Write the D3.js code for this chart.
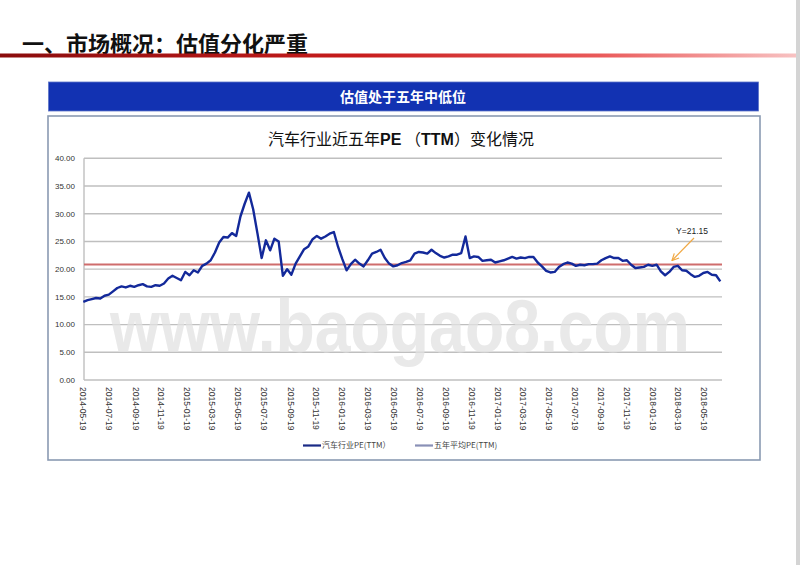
<!DOCTYPE html>
<html><head><meta charset="utf-8">
<script src="https://cdn.jsdelivr.net/npm/d3@7"></script>
<style>
html,body{margin:0;padding:0;background:#fff;}
svg{display:block;}
</style></head>
<body><svg id="c" width="800" height="565"></svg>
<script>
// ---- data ----
const pageTitle = "一、市场概况：估值分化严重";
const bannerText = "估值处于五年中低位";
const seriesNames = ["汽车行业PE(TTM）", "五年平均PE(TTM)"];
const startDate = "2014-05-19";
const stepDays = 10;
const peValues = [
 14.1,14.4,14.6,14.8,14.7,15.2,15.4,16.0,16.6,16.9,
 16.7,17.0,16.8,17.1,17.3,16.9,16.8,17.1,17.0,17.4,
 18.3,18.8,18.4,18.0,19.5,18.9,19.8,19.4,20.6,21.0,
 21.6,23.0,24.8,25.8,25.7,26.5,26.0,29.5,31.8,33.8,
 30.8,26.5,22.0,25.2,23.4,25.5,25.0,18.8,20.0,19.0,
 21.0,22.3,23.6,24.1,25.4,26.0,25.5,25.9,26.4,26.7,
 24.0,21.8,19.8,20.9,21.7,21.0,20.5,21.6,22.8,23.1,
 23.5,22.0,21.0,20.5,20.7,21.1,21.3,21.6,22.8,23.1,
 23.0,22.8,23.5,22.9,22.4,22.1,22.3,22.6,22.6,22.9,
 25.9,22.0,22.3,22.2,21.5,21.6,21.7,21.2,21.4,21.6,
 21.9,22.2,21.9,22.1,22.0,22.2,22.2,21.2,20.5,19.7,
 19.4,19.5,20.4,20.9,21.2,21.0,20.6,20.8,20.7,20.9,
 20.9,21.0,21.6,22.0,22.3,22.0,22.0,21.5,21.6,20.8,
 20.2,20.3,20.4,20.8,20.6,20.8,19.6,18.9,19.5,20.4,
 20.6,19.8,19.7,19.1,18.6,18.8,19.3,19.5,19.0,18.9,
 17.8
];
const avgPE = 20.85;
const avgLabel = "Y=21.15";
const xTickLabels = ["2014-05-19","2014-07-19","2014-09-19","2014-11-19","2015-01-19","2015-03-19",
 "2015-05-19","2015-07-19","2015-09-19","2015-11-19","2016-01-19","2016-03-19","2016-05-19",
 "2016-07-19","2016-09-19","2016-11-19","2017-01-19","2017-03-19","2017-05-19","2017-07-19",
 "2017-09-19","2017-11-19","2018-01-19","2018-03-19","2018-05-19"];
const yTicks = [0,5,10,15,20,25,30,35,40];
const xDomain = ["2014-05-19","2018-07-01"];

// ---- drawing ----
const svg = d3.select("#c");
const parse = d3.timeParse("%Y-%m-%d");
const t0 = parse(startDate);
const data = peValues.map((v,i)=>({d:d3.timeDay.offset(t0, i*stepDays), v}));

const defs = svg.append("defs");
const g1 = defs.append("linearGradient").attr("id","redline").attr("x1","0").attr("x2","1").attr("y1","0").attr("y2","0");
g1.append("stop").attr("offset","0%").attr("stop-color","#8a0c0c");
g1.append("stop").attr("offset","45%").attr("stop-color","#c81c1c");
g1.append("stop").attr("offset","75%").attr("stop-color","#ea5a5a");
g1.append("stop").attr("offset","100%").attr("stop-color","#f8c4c4");
defs.append("marker").attr("id","arr").attr("viewBox","0 0 10 10").attr("refX",9).attr("refY",5)
  .attr("markerWidth",7).attr("markerHeight",7).attr("orient","auto")
  .append("path").attr("d","M1,1 L9,5 L1,9").attr("fill","none").attr("stroke","#f0a843").attr("stroke-width",1.4);

// page title
svg.append("text").attr("x",22).attr("y",52).attr("font-family","Noto Sans CJK SC").attr("font-weight","bold")
  .attr("font-size",22).attr("fill","#111").attr("textLength",286).attr("lengthAdjust","spacingAndGlyphs").text(pageTitle);
svg.append("rect").attr("x",0).attr("y",53.5).attr("width",800).attr("height",4).attr("fill","url(#redline)");
svg.append("rect").attr("x",796).attr("y",0).attr("width",4).attr("height",565).attr("fill","#d4d4d4");

// banner
svg.append("rect").attr("x",48.5).attr("y",82).attr("width",710).attr("height",29).attr("fill","#1232b2").attr("stroke","#5d74c8").attr("stroke-width",0.8);
svg.append("text").attr("x",403).attr("y",101.5).attr("text-anchor","middle").attr("font-family","Noto Sans CJK SC")
  .attr("font-weight","bold").attr("font-size",14).attr("fill","#fff").text(bannerText);

// chart frame
svg.append("rect").attr("x",48).attr("y",116).attr("width",712).attr("height",344).attr("fill","#fff")
  .attr("stroke","#8a9ab2").attr("stroke-width",1.6);

// chart title
const ct = svg.append("text").attr("x",401).attr("y",145).attr("text-anchor","middle")
  .attr("font-family","Noto Sans CJK SC").attr("font-size",16).attr("fill","#111");
ct.append("tspan").text("汽车行业近五年");
ct.append("tspan").attr("font-weight","bold").attr("font-family","Liberation Sans").text("PE");
ct.append("tspan").text(" （");
ct.append("tspan").attr("font-weight","bold").attr("font-family","Liberation Sans").text("TTM");
ct.append("tspan").text("）变化情况");

const L=84, R=722, T=158.3, B=380;
const x = d3.scaleTime().domain(xDomain.map(parse)).range([83.3, R]);
const y = d3.scaleLinear().domain([0,40]).range([B, T]);

// gridlines
svg.append("g").selectAll("line").data(yTicks).join("line")
  .attr("x1",L).attr("x2",R).attr("y1",d=>y(d)).attr("y2",d=>y(d))
  .attr("stroke","#bfbfbf").attr("stroke-width",1.4);
svg.append("line").attr("x1",L).attr("x2",L).attr("y1",T).attr("y2",B).attr("stroke","#bfbfbf").attr("stroke-width",1.4);

// y labels
svg.append("g").selectAll("text").data(yTicks).join("text")
  .attr("x",75).attr("y",d=>y(d)).attr("dy","0.35em").attr("text-anchor","end")
  .attr("font-family","Liberation Sans").attr("font-size",8).attr("fill","#333")
  .text(d=>d3.format(".2f")(d));

// x labels
svg.append("g").selectAll("text").data(xTickLabels).join("text")
  .attr("transform",d=>`translate(${x(parse(d))},387) rotate(90)`)
  .attr("dy","0.35em").attr("font-family","Liberation Sans").attr("font-size",8.5).attr("fill","#333")
  .text(d=>d);

// watermark
svg.append("text").attr("x",110).attr("y",352).attr("font-family","Liberation Sans").attr("font-weight","bold")
  .attr("font-size",74).attr("fill","#e2e2e2").attr("opacity",0.75).attr("textLength",580).attr("lengthAdjust","spacingAndGlyphs")
  .text("www.baogao8.com");

// average line
svg.append("line").attr("x1",L).attr("x2",R).attr("y1",y(avgPE)).attr("y2",y(avgPE))
  .attr("stroke","#cf6d6d").attr("stroke-width",2);

// PE line
svg.append("path").datum(data).attr("fill","none").attr("stroke","#13299a").attr("stroke-width",2.4)
  .attr("stroke-linejoin","round")
  .attr("d", d3.line().x(d=>x(d.d)).y(d=>y(d.v)));

// annotation
svg.append("text").attr("x",692).attr("y",234).attr("text-anchor","middle").attr("font-family","Liberation Sans")
  .attr("font-size",8.5).attr("fill","#222").text(avgLabel);
svg.append("line").attr("x1",694).attr("y1",238).attr("x2",672).attr("y2",260.5)
  .attr("stroke","#f0a843").attr("stroke-width",1.2).attr("marker-end","url(#arr)");

// legend
const leg = [{name:seriesNames[0], color:"#1a2a86", x:303},{name:seriesNames[1], color:"#8990b6", x:415}];
const lg = svg.append("g").selectAll("g").data(leg).join("g").attr("transform",d=>`translate(${d.x},445.5)`);
lg.append("line").attr("x1",0).attr("x2",18).attr("stroke",d=>d.color).attr("stroke-width",2.2);
lg.append("text").attr("x",19).attr("dy","0.35em").attr("font-family","Noto Sans CJK SC").attr("font-size",8)
  .attr("fill","#444").text(d=>d.name);
</script></body></html>
